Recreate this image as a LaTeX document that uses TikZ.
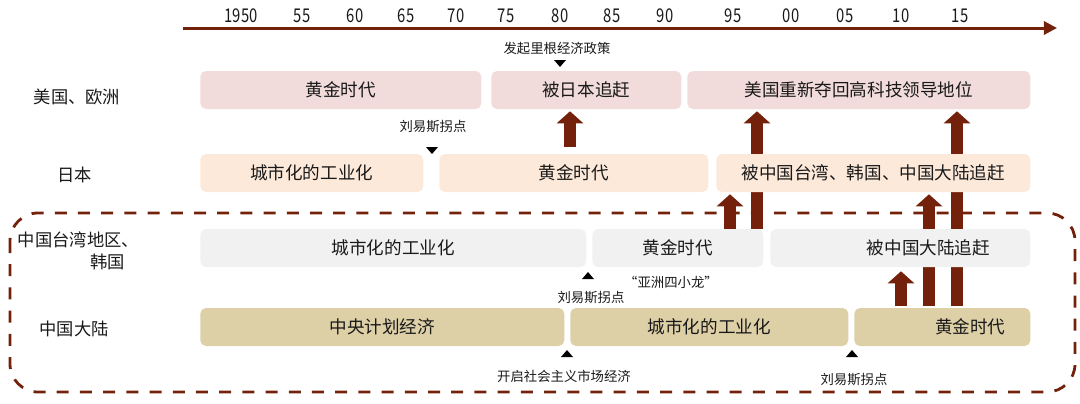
\documentclass[tikz,border=0pt]{standalone}
\usepackage{fontspec}
\setmainfont{Noto Sans CJK SC}
\newfontfamily\yearfont[FakeStretch=0.78]{Noto Sans CJK SC}
\usetikzlibrary{arrows.meta, backgrounds}
\definecolor{brn}{RGB}{115, 33, 10}
\definecolor{pnk}{RGB}{242, 220, 219}
\definecolor{pch}{RGB}{253, 233, 217}
\definecolor{gry}{RGB}{241, 241, 241}
\definecolor{snd}{RGB}{221, 207, 166}
\newcommand{\px}{0.025cm}

\begin{document}
\begin{tikzpicture}[x=\px, y=-\px,
    bar/.style={anchor=west, rounded corners=4pt, inner sep=0pt, minimum height=38*\px,
        text=black!90, font=\fontsize{12.5}{15}\selectfont},
    lbl/.style={text=black!90, font=\fontsize{12.3}{15.6}\selectfont},
    note/.style={text=black!90, inner sep=0pt, font=\fontsize{9.5}{11}\selectfont},
    yr/.style={text=black!90, font=\yearfont\fontsize{13.5}{15}\selectfont},
    axisline/.style={brn, line width=0.075cm, -{Triangle[width=0.33cm, length=0.33cm]}},
    uparr/.style={brn, line width=0.29cm, -{Triangle[width=0.65cm, length=0.3cm]}}]
    \useasboundingbox (0,0) rectangle (1080,403);

    % time axis
    \coordinate (ax0) at (183,28);
    \coordinate (ax1) at (1057,28);
    \draw[axisline] (ax0) -- (ax1);
    \node[yr] (y1950) at (241,16) {1950};
    \node[yr] (y55) at (302,16) {55};
    \node[yr] (y60) at (355,16) {60};
    \node[yr] (y65) at (406,16) {65};
    \node[yr] (y70) at (456,16) {70};
    \node[yr] (y75) at (506,16) {75};
    \node[yr] (y80) at (560,16) {80};
    \node[yr] (y85) at (612,16) {85};
    \node[yr] (y90) at (665,16) {90};
    \node[yr] (y95) at (733,16) {95};
    \node[yr] (y00) at (791,16) {00};
    \node[yr] (y05) at (845,16) {05};
    \node[yr] (y10) at (901,16) {10};
    \node[yr] (y15) at (960,16) {15};

    % row labels
    \node[lbl] (lus) at (77,97) {美国、欧洲};
    \node[lbl] (ljp) at (75,175) {日本};
    \node[lbl, align=right, anchor=east] (ltw) at (144,251) {中国台湾地区、\\韩国\hspace*{0.8em}};
    \node[lbl] (lcn) at (74,329) {中国大陆};

    % boxes
    \node[bar, fill=pnk, minimum width=281*\px] (us1) at (200,90) {黄金时代};
    \node[bar, fill=pnk, minimum width=190*\px] (us2) at (491,90) {被日本追赶};
    \node[bar, fill=pnk, minimum width=343*\px] (us3) at (687,90) {美国重新夺回高科技领导地位};

    \node[bar, fill=pch, minimum width=223*\px] (jp1) at (200,173) {城市化的工业化};
    \node[bar, fill=pch, minimum width=269*\px] (jp2) at (439,173) {黄金时代};
    \node[bar, fill=pch, minimum width=314*\px] (jp3) at (716,173) {被中国台湾、韩国、中国大陆追赶};

    \node[bar, fill=gry, minimum width=386*\px] (tw1) at (200,248) {城市化的工业化};
    \node[bar, fill=gry, minimum width=171*\px] (tw2) at (592,248) {黄金时代};
    \node[bar, fill=gry, minimum width=260*\px] (tw3) at (770,248) {\hspace*{3.2em}被中国大陆追赶};

    \node[bar, fill=snd, minimum width=364*\px] (cn1) at (200,327) {中央计划经济};
    \node[bar, fill=snd, minimum width=278*\px] (cn2) at (570,327) {城市化的工业化};
    \node[bar, fill=snd, minimum width=176*\px] (cn3) at (854,327) {\hspace*{3.2em}黄金时代};

    % x of the catch-up arrows
    \coordinate (a1) at (570,0);
    \coordinate (a2) at (757,0);
    \coordinate (a3) at (730,0);
    \coordinate (a4) at (957,0);
    \coordinate (a5) at (929,0);
    \coordinate (a6) at (901,0);

    \begin{pgfonlayer}{background}
        % dashed frame round the two lower rows
        \draw[brn, line width=0.07cm, dash pattern=on 0.3cm off 0.28cm, rounded corners=0.7cm]
            (10,213) rectangle (1075,392);
        % catch-up arrows, the boxes go over them
        \draw[uparr, shorten <=0.18cm, shorten >=0.05cm] (jp2.north -| a1) -- (us2.south -| a1);
        \draw[uparr, shorten >=0.05cm] (tw2.north -| a2) -- (us3.south -| a2);
        \draw[uparr, shorten >=0.05cm] (tw2.north -| a3) -- (jp3.south -| a3);
        \draw[uparr, shorten <=0.04cm, shorten >=0.05cm] (cn3.north -| a4) -- (us3.south -| a4);
        \draw[uparr, shorten <=0.04cm, shorten >=0.05cm] (cn3.north -| a5) -- (jp3.south -| a5);
        \draw[uparr, shorten <=0.04cm, shorten >=0.1cm] (cn3.north -| a6) -- (tw3.south -| a6);
    \end{pgfonlayer}

    % notes and markers
    \node[note] (n1) at (557,48) {发起里根经济政策};
    \fill (560,67) -- ++(-6,-7) -- ++(12,0) -- cycle;
    \node[note] (n2) at (433,127) {刘易斯拐点};
    \fill (432,154) -- ++(-6,-7) -- ++(12,0) -- cycle;
    \fill (588,272) -- ++(-6,7) -- ++(12,0) -- cycle;
    \node[note] (n3) at (671,282) {“亚洲四小龙”};
    \node[note] (n4) at (591,298) {刘易斯拐点};
    \fill (567,350) -- ++(-6,7) -- ++(12,0) -- cycle;
    \node[note] (n5) at (564,376) {开启社会主义市场经济};
    \fill (852,350) -- ++(-6,7) -- ++(12,0) -- cycle;
    \node[note] (n6) at (854,380) {刘易斯拐点};
\end{tikzpicture}
\end{document}
